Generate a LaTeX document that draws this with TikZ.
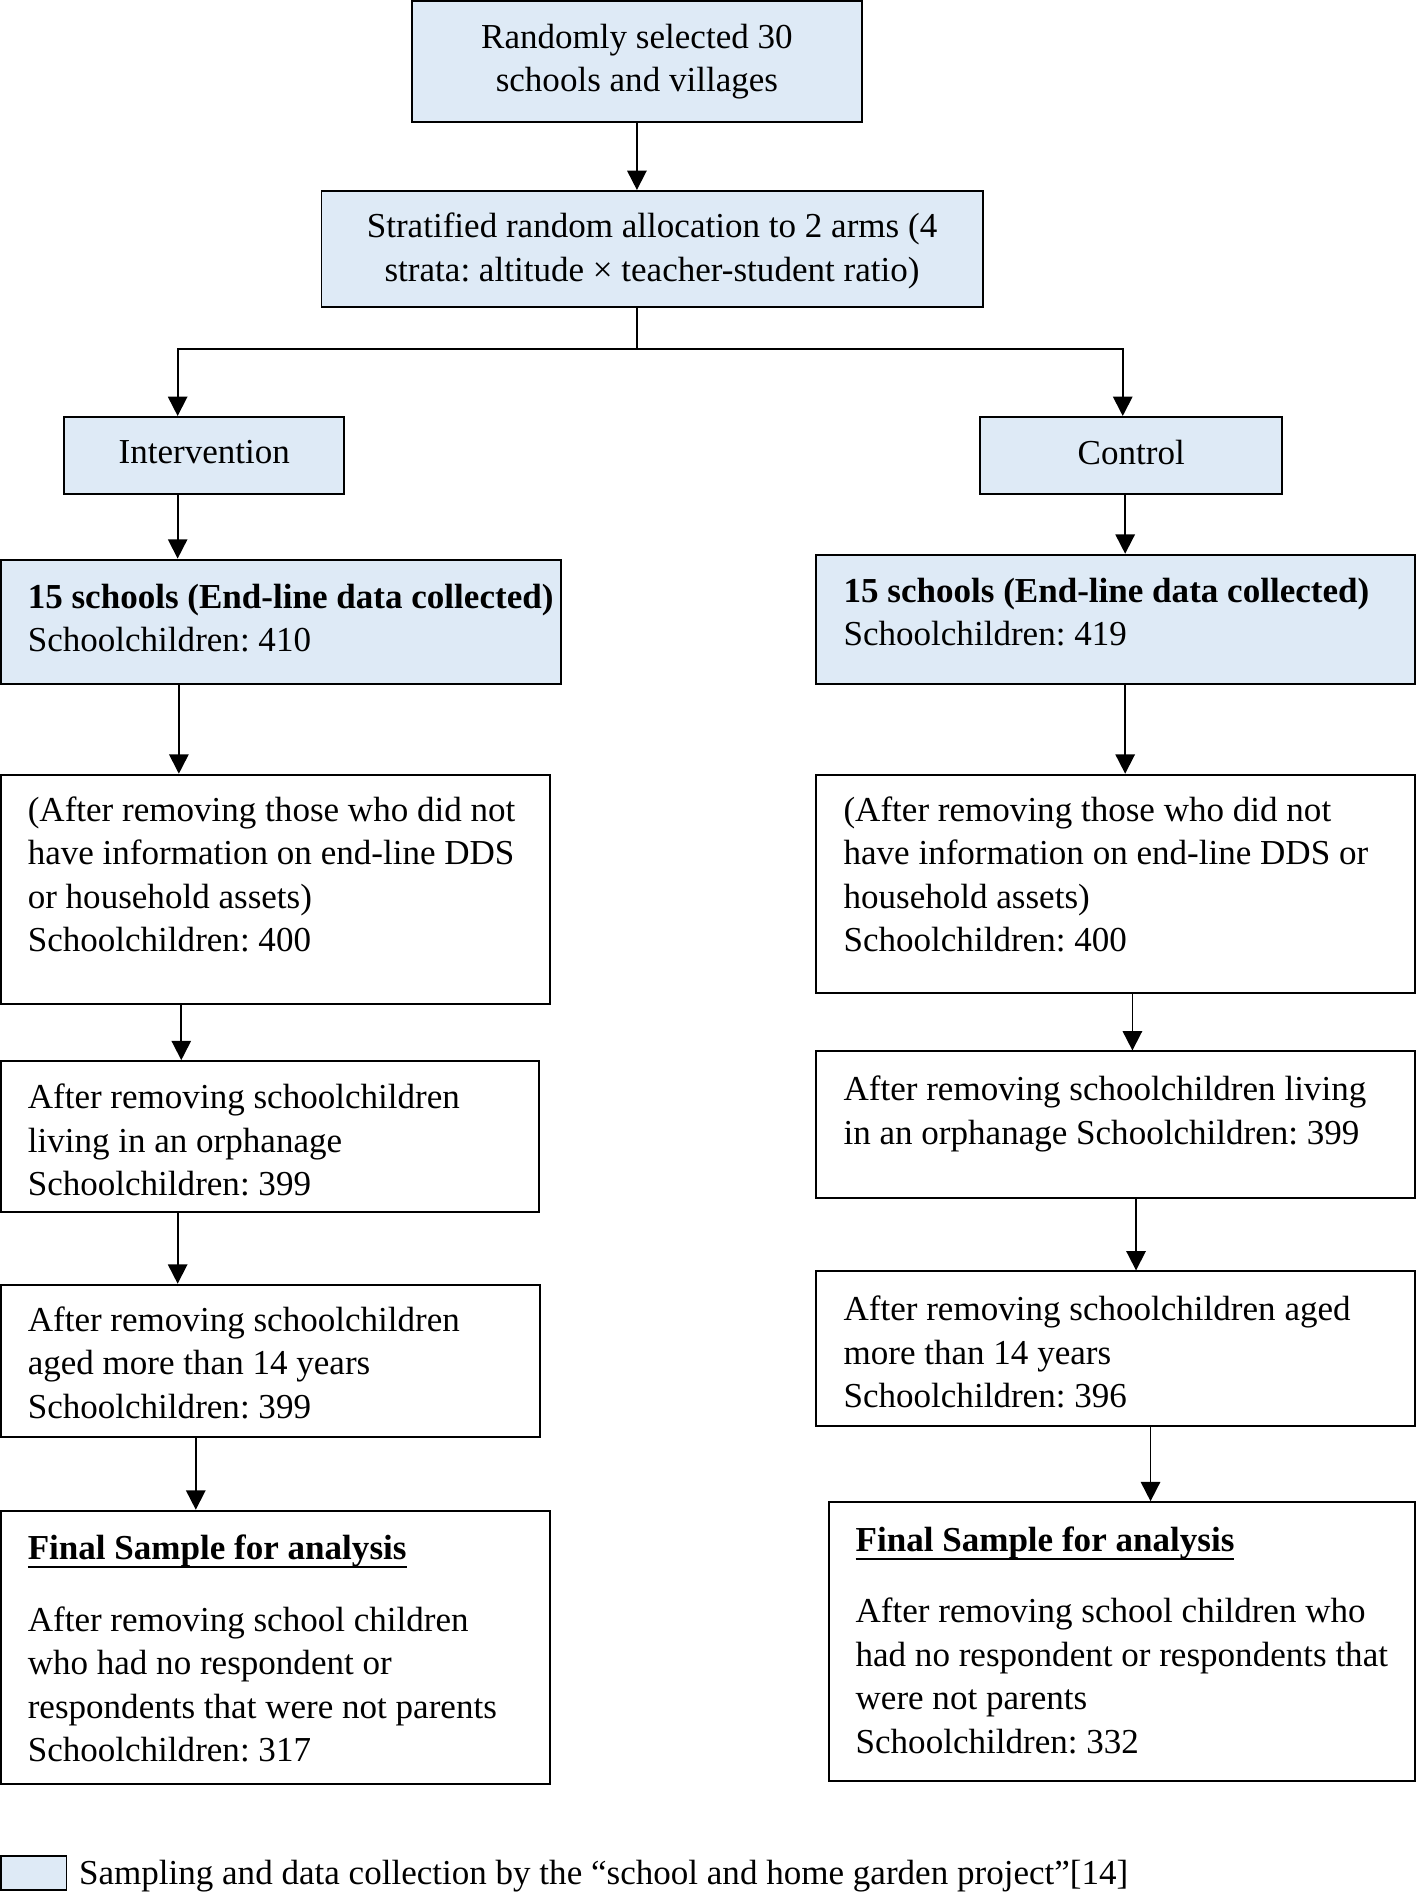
\documentclass[tikz,border=0pt]{standalone}
\usepackage{fontspec}
\setmainfont{Liberation Serif}
\usetikzlibrary{arrows.meta}
\frenchspacing
\definecolor{boxblue}{RGB}{222,234,246}
\newcommand\myul[1]{\setbox0\hbox{#1}\rlap{\rule[-3.4pt]{\wd0}{0.8pt}}\box0}
\newcommand\boxtext[3]{\makebox[#1][l]{\hspace{#2}\begin{tabular}{@{}l@{}}\noalign{\vskip2.5pt}#3\end{tabular}}}
\tikzset{
  base/.style={draw=black, line width=0.8pt, rectangle, inner sep=0pt,
    font=\fontsize{14.5}{18}\selectfont},
  cbox/.style={base, align=center},
  lbox/.style={base},
  blue/.style={fill=boxblue},
  arr/.style={line width=0.75pt, -{Triangle[length=8pt,width=8pt]}},
  ln/.style={line width=0.75pt},
}
\begin{document}
\begin{tikzpicture}[x=0.5pt,y=-0.5pt]
\useasboundingbox (0,0) rectangle (1172,1568);
% top
\node[cbox,blue,minimum width=186pt,minimum height=50pt] (A) at (527,51)
  {Randomly selected 30\\schools and villages};
\node[cbox,blue,minimum width=273.5pt,minimum height=48pt] (B) at (539.5,206)
  {\rule{0pt}{12pt}Stratified random allocation to 2 arms (4\\strata: altitude \texttimes{} teacher-student ratio)};
\node[cbox,blue,minimum width=116pt,minimum height=32pt] (C) at (169,377) {Intervention\rule[-3pt]{0pt}{0pt}};
\node[cbox,blue,minimum width=125pt,minimum height=32pt] (D) at (936,377) {Control\rule[-3pt]{0pt}{0pt}};
% left column
\node[lbox,blue,minimum width=231.5pt,minimum height=51.5pt] (E) at (232.5,514.5)
  {\boxtext{231.5pt}{11pt}{\textbf{15 schools (End-line data collected)}\\Schoolchildren: 410\\[3pt]}};
\node[lbox,minimum width=227pt,minimum height=95pt] (G) at (228,736)
  {\boxtext{227pt}{11pt}{(After removing those who did not\\have information on end-line DDS\\or household assets)\\Schoolchildren: 400\\[12pt]}};
\node[lbox,minimum width=222.5pt,minimum height=62.5pt] (I) at (223.5,940.5)
  {\boxtext{222.5pt}{11pt}{\noalign{\vskip3pt}After removing schoolchildren\\living in an orphanage\\Schoolchildren: 399}};
\node[lbox,minimum width=223pt,minimum height=63pt] (K) at (224,1126)
  {\boxtext{223pt}{11pt}{\noalign{\vskip2pt}After removing schoolchildren\\aged more than 14 years\\Schoolchildren: 399}};
\node[lbox,minimum width=227pt,minimum height=113pt] (M) at (228,1363)
  {\boxtext{227pt}{11pt}{\noalign{\vskip1.5pt}\myul{\textbf{Final Sample for analysis}}\\[11.5pt]After removing school children\\who had no respondent or\\respondents that were not parents\\Schoolchildren: 317}};
% right column
\node[lbox,blue,minimum width=248pt,minimum height=53.5pt] (F) at (923,512.5)
  {\boxtext{248pt}{11.5pt}{\textbf{15 schools (End-line data collected)}\\Schoolchildren: 419\\[6pt]}};
\node[lbox,minimum width=248pt,minimum height=90.5pt] (H) at (923,731.5)
  {\boxtext{248pt}{11.5pt}{(After removing those who did not\\have information on end-line DDS or\\household assets)\\Schoolchildren: 400\\[7.5pt]}};
\node[lbox,minimum width=248pt,minimum height=60.5pt] (J) at (923,930.5)
  {\boxtext{248pt}{11.5pt}{After removing schoolchildren living\\in an orphanage Schoolchildren: 399\\[11.5pt]}};
\node[lbox,minimum width=248pt,minimum height=64pt] (L) at (923,1116)
  {\boxtext{248pt}{11.5pt}{\noalign{\vskip3pt}After removing schoolchildren aged\\more than 14 years\\Schoolchildren: 396}};
\node[lbox,minimum width=242.5pt,minimum height=115.5pt] (N) at (928.5,1358.5)
  {\boxtext{242.5pt}{11pt}{\myul{\textbf{Final Sample for analysis}}\\[11.5pt]After removing school children who\\had no respondent or respondents that\\were not parents\\Schoolchildren: 332\\[1pt]}};
% legend
\node[base,blue,minimum width=27pt,minimum height=14pt] (LB) at (28,1550) {};
\node[font=\fontsize{14.5}{18}\selectfont,inner sep=0pt,anchor=west] (LT) at (65,1552)
  {Sampling and data collection by the \textquotedblleft school and home garden project\textquotedblright[14]};
% connector x positions
\coordinate (xa) at (527,0);
\coordinate (xl) at (147,0);
\coordinate (xr) at (929,0);
\coordinate (split) at (527,289);
\coordinate (xd) at (931,0);
\coordinate (xe) at (148,0);
\coordinate (xg) at (150,0);
\coordinate (xh) at (937,0);
\coordinate (xi) at (147,0);
\coordinate (xj) at (940,0);
\coordinate (xk) at (162,0);
\coordinate (xll) at (952,0);
% connectors
\draw[arr] (A.south -| xa) -- (B.north -| xa);
\draw[ln] (B.south -| xa) -- (split);
\draw[arr] (split) -| (C.north -| xl);
\draw[arr] (split) -| (D.north -| xr);
\draw[arr] (C.south -| xl) -- (E.north -| xl);
\draw[arr] (D.south -| xd) -- (F.north -| xd);
\draw[arr] (E.south -| xe) -- (G.north -| xe);
\draw[arr] (F.south -| xd) -- (H.north -| xd);
\draw[arr] (G.south -| xg) -- (I.north -| xg);
\draw[arr] (H.south -| xh) -- (J.north -| xh);
\draw[arr] (I.south -| xi) -- (K.north -| xi);
\draw[arr] (J.south -| xj) -- (L.north -| xj);
\draw[arr] (K.south -| xk) -- (M.north -| xk);
\draw[arr] (L.south -| xll) -- (N.north -| xll);
\end{tikzpicture}
\end{document}
